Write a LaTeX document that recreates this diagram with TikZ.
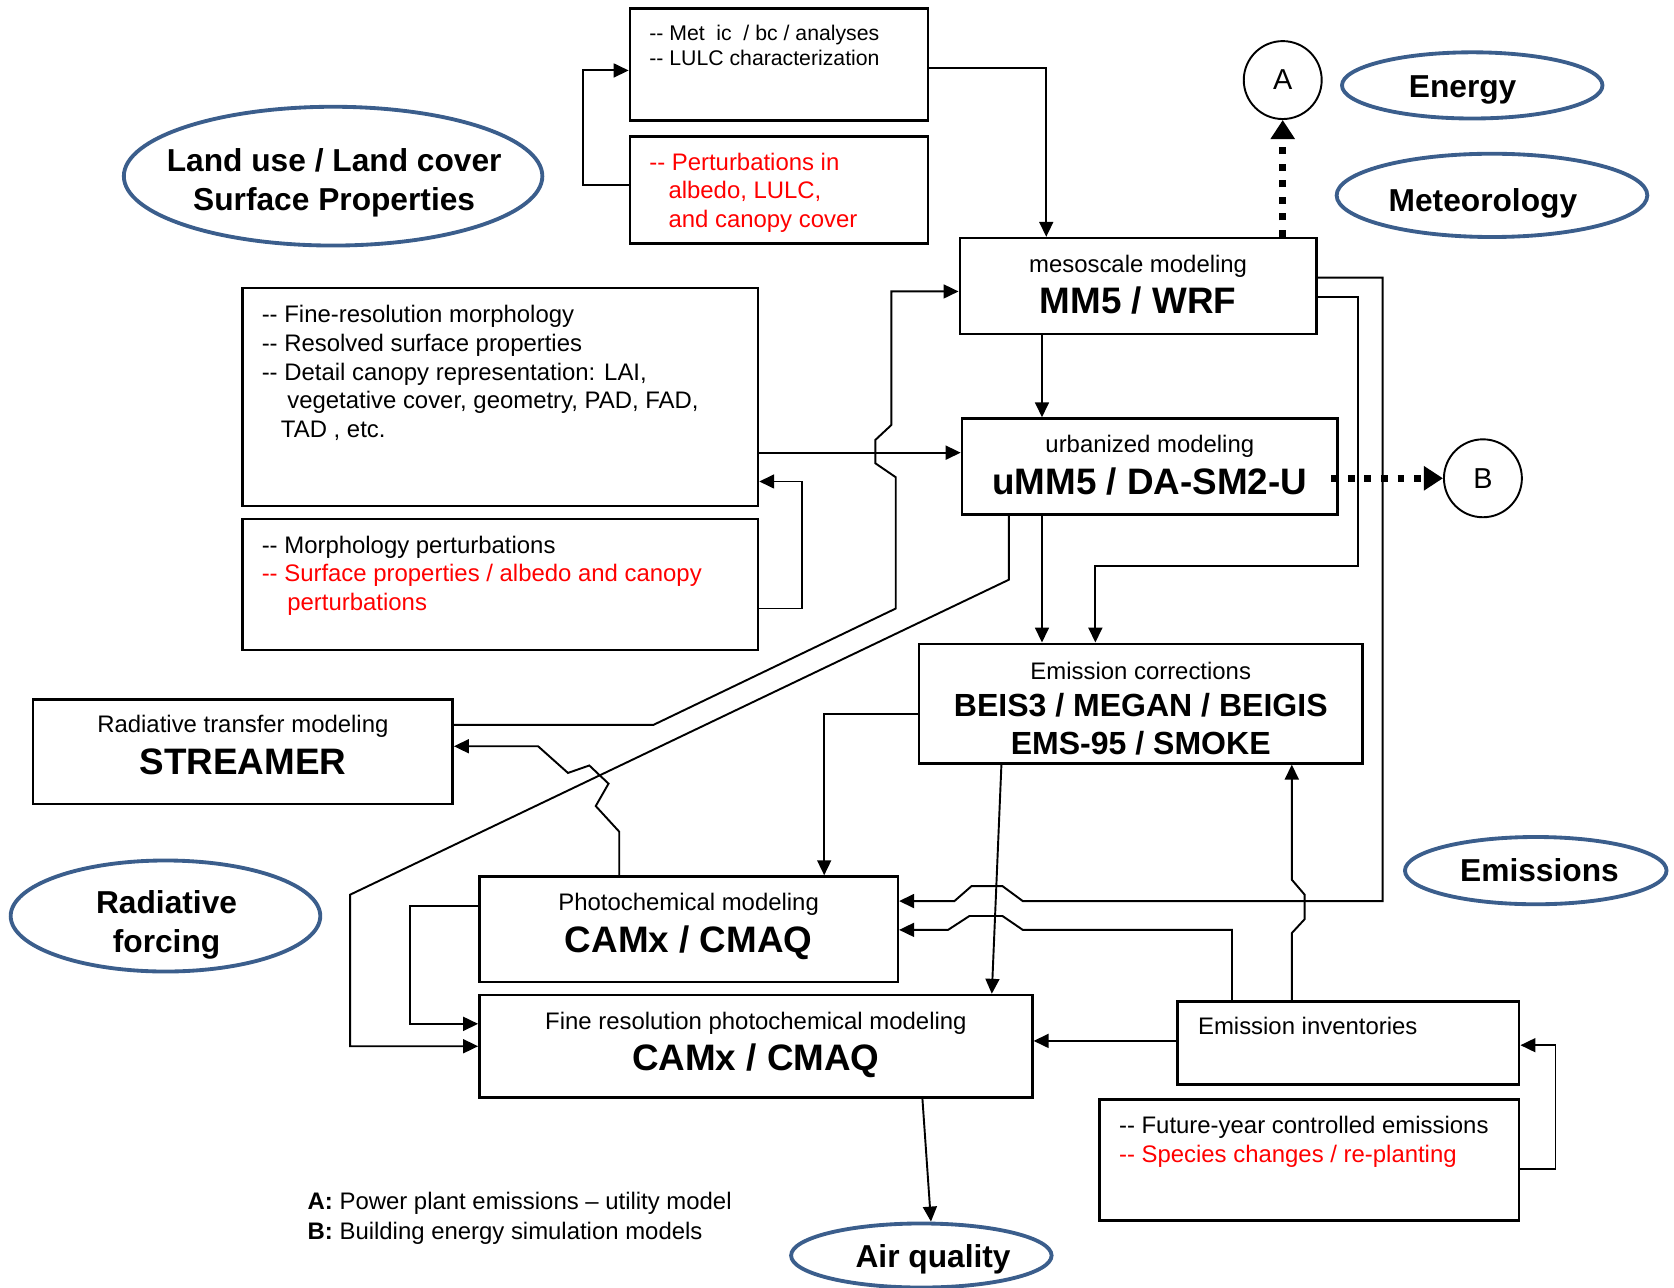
\documentclass[tikz,border=0pt]{standalone}
\usepackage{fontspec}
\setmainfont{Liberation Sans}
\usetikzlibrary{arrows.meta,shapes.geometric}
\definecolor{ellblue}{RGB}{59,94,140}
\newcommand\dsh{-\kern0pt-}
\newcommand\fs[1]{\fontsize{#1}{#1}\selectfont}
\newcommand\txtline[4]{\node[txt] (#1) at (#2,#3) {#4};}
\begin{document}
\begin{tikzpicture}[x=1pt,y=-1pt,
  box/.style={draw, line width=2.3pt, rectangle, inner sep=0pt},
  conn/.style={line width=1.8pt, -{Triangle[length=14pt,width=13pt]}},
  ell/.style={draw=ellblue, line width=3.6pt, ellipse, inner sep=0pt},
  circ/.style={draw, circle, line width=1.8pt, inner sep=0pt, minimum size=73pt, font=\fs{27}},
  dotarrow/.style={line width=6.5pt, dash pattern=on 6.5pt off 9pt, -{Triangle[length=18pt,width=22pt]}},
  txt/.style={inner sep=0pt, anchor=base west, font=\fs{22.4}},
  ctxt/.style={inner sep=0pt, anchor=base, font=\fs{22.4}},
  big/.style={inner sep=0pt, anchor=base, font=\fs{34.5}\bfseries},
  mid/.style={inner sep=0pt, anchor=base, font=\fs{30}\bfseries},
  elltxt/.style={inner sep=0pt, anchor=base, font=\fs{29.7}\bfseries}
]
\useasboundingbox (0,0) rectangle (1568,1206);

% ---------- boxes ----------
\node[box, minimum width=279pt, minimum height=105pt] (metbox) at (729.5,60.5) {};
\node[box, minimum width=279pt, minimum height=100pt] (pertbox) at (729.5,178) {};
\node[box, minimum width=334pt, minimum height=90pt] (mm5) at (1066,268) {};
\node[box, minimum width=352pt, minimum height=90pt] (umm5) at (1077,437) {};
\node[box, minimum width=483pt, minimum height=204pt] (finemorph) at (468.5,372) {};
\node[box, minimum width=483pt, minimum height=123pt] (morphpert) at (468.5,547.5) {};
\node[box, minimum width=393pt, minimum height=98pt] (streamer) at (227.5,704) {};
\node[box, minimum width=415pt, minimum height=112pt] (emcorr) at (1068.5,659) {};
\node[box, minimum width=392pt, minimum height=99pt] (photochem) at (645,870.5) {};
\node[box, minimum width=518pt, minimum height=96pt] (finecamx) at (708,980) {};
\node[box, minimum width=320pt, minimum height=78pt] (eminv) at (1263,977) {};
\node[box, minimum width=393pt, minimum height=113pt] (future) at (1226.5,1086.5) {};

% ---------- ellipses ----------
\node[ell, minimum width=392pt, minimum height=130pt] (landuse) at (312,165) {};
\node[ell, minimum width=244pt, minimum height=62pt] (energy) at (1379,80) {};
\node[ell, minimum width=291pt, minimum height=78pt] (meteo) at (1397.5,183) {};
\node[ell, minimum width=245pt, minimum height=63pt] (emis) at (1438.5,815.5) {};
\node[ell, minimum width=244pt, minimum height=60pt] (airq) at (863,1176) {};
\node[ell, minimum width=290pt, minimum height=104pt] (radf) at (155,858) {};

% ---------- circles ----------
\node[circ] (A) at (1201.5,75) {A};
\node[circ] (B) at (1389,448) {B};

% ---------- texts ----------
\node[txt, font=\fs{19.9}] (mt1) at (608,37.5) {\dsh{} Met\hspace{0.55em}ic\hspace{0.55em}/ bc / analyses};
\node[txt, font=\fs{19.9}] (mt2) at (608,61.5) {\dsh{} LULC characterization};

\node[txt, text=red] (pt1) at (608,159.5) {\dsh{} Perturbations in};
\node[txt, text=red] (pt2) at (626,186) {albedo, LULC,};
\node[txt, text=red] (pt3) at (626,213) {and canopy cover};

\node[ctxt] (mm5a) at (1066,255) {mesoscale modeling};
\node[big] (mm5b) at (1066,294) {MM5 / WRF};
\node[ctxt] (umm5a) at (1077,424) {urbanized modeling};
\node[big] (umm5b) at (1077,463) {uMM5 / DA-SM2-U};

\txtline{fm1}{245}{302}{\dsh{} Fine-resolution morphology}
\txtline{fm2}{245}{329}{\dsh{} Resolved surface properties}
\txtline{fm3}{245}{356}{\dsh{} Detail canopy representation: LAI,}
\txtline{fm4}{269}{383}{vegetative cover, geometry, PAD, FAD,}
\txtline{fm5}{263}{410}{TAD , etc.}

\txtline{mp1}{245}{518}{\dsh{} Morphology perturbations}
\node[txt, text=red] (mp2) at (245,545) {\dsh{} Surface properties / albedo and canopy};
\node[txt, text=red] (mp3) at (269,572) {perturbations};

\node[ctxt] (sta) at (227.5,686) {Radiative transfer modeling};
\node[big] (stb) at (227.5,725) {STREAMER};

\node[ctxt] (eca) at (1068.5,636) {Emission corrections};
\node[mid] (ecb) at (1068.5,671) {BEIS3 / MEGAN / BEIGIS};
\node[mid] (ecc) at (1068.5,707) {EMS-95 / SMOKE};

\node[ctxt] (pca) at (645,853) {Photochemical modeling};
\node[big] (pcb) at (645,892) {CAMx / CMAQ};

\node[ctxt] (fca) at (708,964) {Fine resolution photochemical modeling};
\node[big] (fcb) at (708,1003) {CAMx / CMAQ};

\txtline{ei1}{1122}{969}{Emission inventories}
\txtline{fu1}{1048}{1062}{\dsh{} Future-year controlled emissions}
\node[txt, text=red] (fu2) at (1048,1089) {\dsh{} Species changes / re-planting};

\txtline{lgA}{288}{1133}{\textbf{A:} Power plant emissions – utility model}
\txtline{lgB}{288}{1161}{\textbf{B:} Building energy simulation models}

\node[elltxt] (lut1) at (313,161) {Land use / Land cover};
\node[elltxt] (lut2) at (313,197) {Surface Properties};
\node[elltxt] (ent) at (1370,91) {Energy};
\node[elltxt] (met) at (1389,198) {Meteorology};
\node[elltxt] (emt) at (1442,826) {Emissions};
\node[elltxt] (aqt) at (874,1187) {Air quality};
\node[elltxt] (rf1) at (156,856) {Radiative};
\node[elltxt] (rf2) at (156,892) {forcing};

% ---------- connectors ----------
\coordinate (bstart) at (1247,448);
\draw[conn] (pertbox.west |- 0,173) -- (546,173) -- (546,66) -- (metbox.west |- 0,66);
\draw[conn] (metbox.east |- 0,64) -- (980,64) -- (mm5.north -| 980,0);
\draw[dotarrow] (mm5.north -| A.south) -- (A.south);
\draw[conn] (mm5.south -| 976,0) -- (umm5.north -| 976,0);
\draw[conn] (mm5.east |- 0,260) -- (1295,260) -- (1295,844) -- (958,844) -- (939,830) -- (910,830) -- (894,844) -- (photochem.east |- 0,844);
\draw[conn] (mm5.east |- 0,278) -- (1272,278) -- (1272,530) -- (1026,530) -- (emcorr.north -| 1026,0);
\draw[conn] (finemorph.east |- 0,424) -- (umm5.west |- 0,424);
\draw[conn] (morphpert.east |- 0,570) -- (751,570) -- (751,451) -- (finemorph.east |- 0,451);
\draw[conn] (streamer.east |- 0,679) -- (612,679) -- (839,570) -- (839,447) -- (820,434) -- (820,412) -- (835,398) -- (835,273) -- (mm5.west |- 0,273);
\draw[dotarrow] (bstart) -- (B.west);
\draw[conn] (umm5.south -| 976,0) -- (emcorr.north -| 976,0);
\draw[conn] (umm5.south -| 945,0) -- (945,543) -- (328,838) -- (328,980) -- (finecamx.west |- 0,980);
\draw[conn] (emcorr.west |- 0,669) -- (772,669) -- (photochem.north -| 772,0);
\draw[conn] (emcorr.south -| 938,0) -- (finecamx.north -| 929,0);
\draw[conn] (photochem.north -| 580,0) -- (580,779) -- (558,755) -- (570,734) -- (552,717) -- (532,724) -- (504,699) -- (streamer.east |- 0,699);
\draw[conn] (photochem.west |- 0,849) -- (384,849) -- (384,959) -- (finecamx.west |- 0,959);
\draw[conn] (eminv.north -| 1154,0) -- (1154,871) -- (958,871) -- (939,858) -- (908,858) -- (888,871) -- (photochem.east |- 0,871);
\draw[conn] (eminv.north -| 1210,0) -- (1210,874) -- (1222,861) -- (1222,838) -- (1210,824) -- (emcorr.south -| 1210,0);
\draw[conn] (eminv.west |- 0,975) -- (finecamx.east |- 0,975);
\draw[conn] (future.east |- 0,1095) -- (1457,1095) -- (1457,979) -- (eminv.east |- 0,979);
\draw[conn] (finecamx.south -| 864,0) -- (airq.north -| 872,0);
\end{tikzpicture}
\end{document}
